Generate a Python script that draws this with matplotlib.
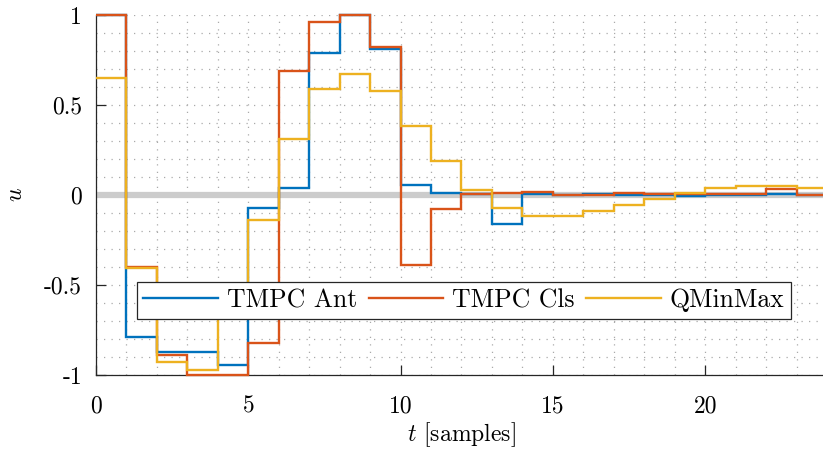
import numpy as np
import matplotlib
matplotlib.use('Agg')
import matplotlib.pyplot as plt
from matplotlib.ticker import MultipleLocator, FormatStrFormatter

plt.rcParams['font.family'] = 'serif'
plt.rcParams['font.serif'] = ['cmr10']
plt.rcParams['mathtext.fontset'] = 'cm'
plt.rcParams['axes.unicode_minus'] = False
plt.rcParams['axes.formatter.use_mathtext'] = True

# control input per sample, held constant over each sampling interval
t_edges = np.arange(0, 25)
u_tmpc_ant = [1.0, -0.79, -0.87, -0.87, -0.945, -0.07, 0.04, 0.79, 1.0, 0.81, 0.055, 0.01,
              0.005, -0.16, 0.005, 0.0, 0.005, 0.0, 0.0, -0.005, 0.0, 0.0, 0.005, 0.0]
u_tmpc_cls = [1.0, -0.4, -0.89, -1.0, -1.0, -0.82, 0.69, 0.96, 1.0, 0.82, -0.39, -0.08,
              0.005, 0.01, 0.015, 0.0, 0.0, 0.01, 0.005, 0.003, 0.003, 0.003, 0.033, 0.0]
u_qminmax = [0.65, -0.405, -0.93, -0.97, -0.6, -0.14, 0.31, 0.59, 0.67, 0.58, 0.385, 0.19,
             0.03, -0.07, -0.115, -0.115, -0.09, -0.055, -0.02, 0.01, 0.04, 0.05, 0.05, 0.04]
labels = ['TMPC Ant', 'TMPC Cls', 'QMinMax']
colors = ['#0072BD', '#D95319', '#EDB120']

fig = plt.figure(figsize=(8.23, 4.55), dpi=100)
ax = fig.add_axes([96 / 823, 80 / 455, 731 / 823, 360 / 455])

ax.axhline(0, color='#cccccc', lw=4.5, zorder=1)

for u, lab, c in zip([u_tmpc_ant, u_tmpc_cls, u_qminmax], labels, colors):
    ax.stairs(u, t_edges, baseline=None, color=c, lw=1.7, label=lab, zorder=3,
              clip_on=False)

ax.set_xlim(0, 24)
ax.set_ylim(-1, 1)
ax.xaxis.set_major_locator(MultipleLocator(5))
ax.xaxis.set_minor_locator(MultipleLocator(1))
ax.yaxis.set_major_locator(MultipleLocator(0.5))
ax.yaxis.set_minor_locator(MultipleLocator(0.1))
ax.yaxis.set_major_formatter(FormatStrFormatter('%g'))
ax.xaxis.set_major_formatter(FormatStrFormatter('%g'))

ax.grid(True, which='both', linestyle=(0, (1, 5)), color='#aaaaaa', lw=0.9)
ax.set_axisbelow(True)

for side in ['top', 'right']:
    ax.spines[side].set_visible(False)
for side in ['left', 'bottom']:
    ax.spines[side].set_color('#262626')
    ax.spines[side].set_linewidth(0.9)

ax.tick_params(which='major', direction='in', length=7, width=0.9, labelsize=17,
               color='#262626')
ax.tick_params(axis='x', which='major', pad=15)
ax.tick_params(axis='y', which='major', pad=10)
ax.tick_params(which='minor', length=0)

ax.set_xlabel('$t$ [samples]', fontsize=17, labelpad=2)
ax.set_ylabel('$u$', fontsize=17, labelpad=12)

leg = ax.legend(loc='center', bbox_to_anchor=(0.503, 0.207), ncol=3, fontsize=18.5,
                frameon=True, fancybox=False, edgecolor='#262626', framealpha=1,
                handlelength=2.9, handletextpad=0.35, columnspacing=0.45,
                borderpad=0.25, borderaxespad=0)
leg.get_frame().set_linewidth(0.9)
leg.set_zorder(5)

fig.savefig('out.png', dpi=100)
